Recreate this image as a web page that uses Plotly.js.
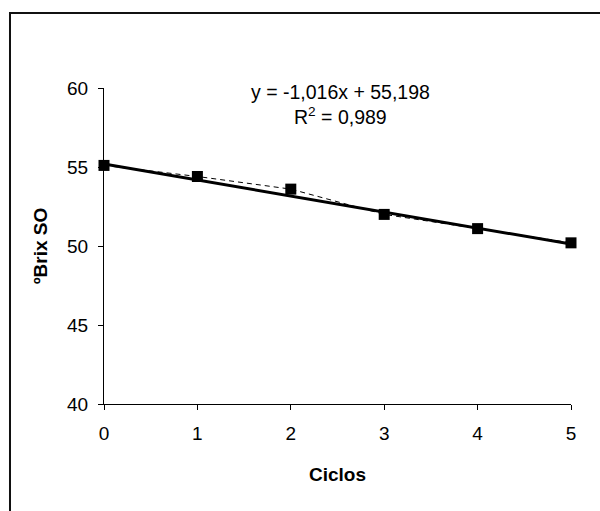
<!DOCTYPE html>
<html>
<head>
<meta charset="utf-8">
<script src="https://cdn.plot.ly/plotly-3.0.1.min.js"></script>
<style>
html,body{margin:0;padding:0;background:#fff;}
#chart{width:600px;height:511px;}
</style>
</head>
<body>
<div id="chart"></div>
<script>
const ciclos = [0, 1, 2, 3, 4, 5];
const brix = [55.1, 54.4, 53.6, 52.0, 51.1, 50.2];
const trendSlope = [-1.016];
const trendIntercept = [55.198];
const eqLabels = ["y = -1,016x + 55,198", "R<sup>2</sup> = 0,989"];
const yTicks = [40, 45, 50, 55, 60];
const xTicks = [0, 1, 2, 3, 4, 5];

const trendX = [ciclos[0], ciclos[ciclos.length - 1]];
const trendY = trendX.map(x => trendSlope[0] * x + trendIntercept[0]);

const data = [
  {
    x: ciclos, y: brix, type: 'scatter', mode: 'lines',
    line: {color: '#000', width: 1, dash: '5px,4px'},
    hoverinfo: 'skip', showlegend: false, cliponaxis: false
  },
  {
    x: trendX, y: trendY, type: 'scatter', mode: 'lines',
    line: {color: '#000', width: 3},
    showlegend: false, cliponaxis: false
  },
  {
    x: ciclos, y: brix, type: 'scatter', mode: 'markers',
    marker: {symbol: 'square', size: 11, color: '#000'},
    showlegend: false, cliponaxis: false
  }
];

const layout = {
  width: 600, height: 511,
  margin: {l: 104, r: 29, t: 88, b: 107},
  paper_bgcolor: '#fff', plot_bgcolor: '#fff',
  font: {family: '"Liberation Sans", Arial, sans-serif', color: '#000', size: 19},
  showlegend: false,
  xaxis: {
    range: [0, 5], tickvals: xTicks, ticktext: xTicks.map(String),
    showgrid: false, zeroline: false, showline: true, linecolor: '#000', linewidth: 1,
    ticks: 'outside', ticklen: 5, tickcolor: '#000', tickfont: {size: 19},
    ticklabelstandoff: 7,
    title: {text: '<b>Ciclos</b>', font: {size: 19}, standoff: 24}
  },
  yaxis: {
    range: [40, 60], tickvals: yTicks, ticktext: yTicks.map(String),
    showgrid: false, zeroline: false, showline: true, linecolor: '#000', linewidth: 1,
    ticks: 'outside', ticklen: 5, tickcolor: '#000', tickfont: {size: 19},
    ticklabelstandoff: 6,
    title: {text: '<b>ºBrix SO</b>', font: {size: 19}, standoff: 14}
  },
  annotations: [
    {xref: 'x', yref: 'y', x: 2.53, y: 59.75, text: eqLabels[0], showarrow: false, font: {size: 19.5}},
    {xref: 'x', yref: 'y', x: 2.53, y: 58.2, text: eqLabels[1], showarrow: false, font: {size: 19.5}}
  ],
  shapes: [
    {type: 'rect', xref: 'paper', yref: 'paper', x0: -0.2013, x1: 1.07, y0: -0.36, y1: 1.2373,
     line: {color: '#111', width: 2}, fillcolor: 'rgba(0,0,0,0)', layer: 'below'}
  ]
};

Plotly.newPlot('chart', data, layout, {displayModeBar: false, staticPlot: true});
</script>
</body>
</html>
